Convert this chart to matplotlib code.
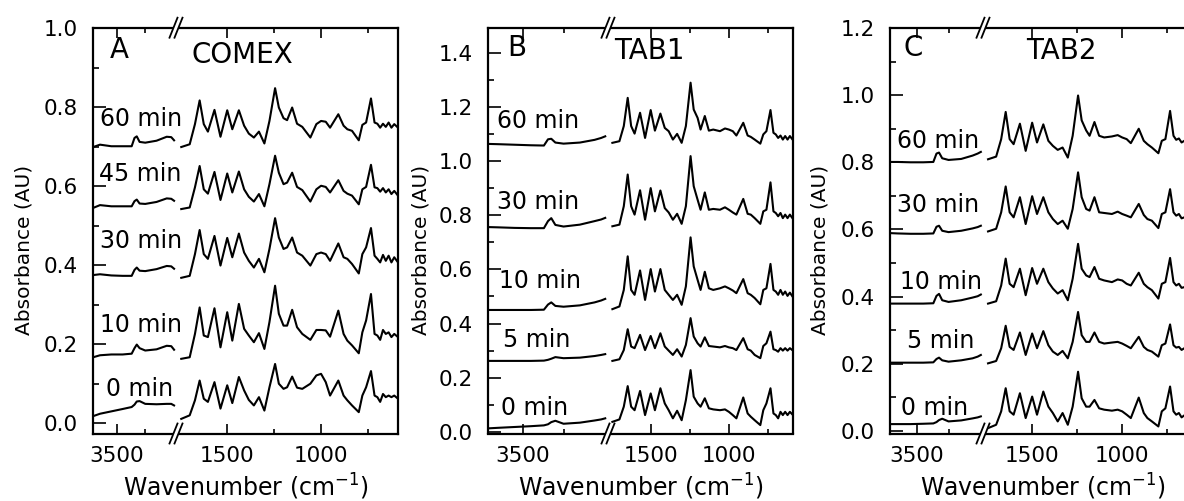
import matplotlib
matplotlib.use('Agg')
import matplotlib.pyplot as plt
from matplotlib.ticker import FixedLocator, MultipleLocator
from matplotlib.lines import Line2D
from matplotlib import transforms

plt.rcParams['font.family'] = ['DejaVu Sans']
plt.rcParams['mathtext.default'] = 'regular'

# wavenumber grids (cm-1) for the two parts of the broken axis
wn_lo = [3710, 3650, 3550, 3450, 3370, 3345, 3325, 3300, 3250, 3150, 3060, 3020, 2995]
wn_hi = [1745, 1700, 1672, 1647, 1625, 1603, 1568, 1536, 1500, 1473, 1438, 1410, 1385,
         1358, 1331, 1302, 1275, 1245, 1225, 1200, 1181, 1154, 1128, 1100, 1057, 1025,
         1000, 975, 952, 908, 880, 860, 835, 799, 780, 760, 734, 715, 700, 685, 670,
         655, 640, 625, 610, 590]

# A - COMEX
comex_times = ['60 min', '45 min', '30 min', '10 min', '0 min']
comex_60_lo = [0.699, 0.705, 0.701, 0.701, 0.701, 0.722, 0.726, 0.712, 0.710, 0.715, 0.725, 0.724, 0.716]
comex_45_lo = [0.545, 0.552, 0.549, 0.549, 0.549, 0.562, 0.566, 0.556, 0.555, 0.560, 0.569, 0.568, 0.563]
comex_30_lo = [0.375, 0.377, 0.374, 0.373, 0.373, 0.388, 0.394, 0.386, 0.385, 0.390, 0.398, 0.397, 0.391]
comex_10_lo = [0.167, 0.172, 0.174, 0.174, 0.176, 0.190, 0.199, 0.190, 0.184, 0.187, 0.196, 0.195, 0.186]
comex_0_lo = [0.018, 0.024, 0.030, 0.036, 0.041, 0.047, 0.055, 0.056, 0.049, 0.048, 0.049, 0.049, 0.045]
comex_60_hi = [0.699, 0.706, 0.757, 0.817, 0.757, 0.738, 0.793, 0.725, 0.792, 0.744, 0.792, 0.753, 0.733,
               0.723, 0.738, 0.708, 0.765, 0.848, 0.799, 0.772, 0.767, 0.799, 0.758, 0.750, 0.723, 0.757,
               0.765, 0.763, 0.748, 0.782, 0.753, 0.744, 0.740, 0.716, 0.755, 0.761, 0.822, 0.761, 0.758,
               0.748, 0.758, 0.750, 0.761, 0.748, 0.757, 0.748]
comex_45_hi = [0.542, 0.546, 0.597, 0.651, 0.592, 0.581, 0.636, 0.565, 0.632, 0.584, 0.637, 0.592, 0.573,
               0.561, 0.580, 0.549, 0.605, 0.677, 0.634, 0.605, 0.609, 0.634, 0.598, 0.590, 0.561, 0.592,
               0.601, 0.598, 0.584, 0.615, 0.588, 0.581, 0.576, 0.554, 0.592, 0.598, 0.654, 0.597, 0.595,
               0.586, 0.595, 0.584, 0.592, 0.580, 0.588, 0.576]
comex_30_hi = [0.368, 0.373, 0.428, 0.489, 0.428, 0.416, 0.474, 0.399, 0.469, 0.420, 0.480, 0.432, 0.411,
               0.394, 0.416, 0.382, 0.441, 0.519, 0.470, 0.441, 0.445, 0.470, 0.432, 0.424, 0.399, 0.428,
               0.432, 0.428, 0.411, 0.455, 0.420, 0.416, 0.403, 0.379, 0.428, 0.445, 0.494, 0.424, 0.416,
               0.407, 0.426, 0.411, 0.424, 0.407, 0.420, 0.407]
comex_10_hi = [0.163, 0.167, 0.226, 0.293, 0.222, 0.218, 0.291, 0.192, 0.281, 0.209, 0.302, 0.239, 0.222,
               0.205, 0.228, 0.188, 0.256, 0.348, 0.277, 0.247, 0.247, 0.287, 0.243, 0.226, 0.211, 0.236,
               0.236, 0.235, 0.219, 0.285, 0.226, 0.209, 0.197, 0.177, 0.230, 0.260, 0.327, 0.226, 0.222,
               0.211, 0.236, 0.226, 0.230, 0.218, 0.226, 0.218]
comex_0_hi = [0.011, 0.020, 0.058, 0.108, 0.062, 0.054, 0.104, 0.037, 0.096, 0.051, 0.117, 0.083, 0.059,
              0.045, 0.066, 0.032, 0.091, 0.150, 0.100, 0.087, 0.091, 0.118, 0.090, 0.087, 0.100, 0.121,
              0.125, 0.104, 0.070, 0.108, 0.070, 0.058, 0.045, 0.028, 0.070, 0.091, 0.132, 0.070, 0.066,
              0.054, 0.074, 0.066, 0.070, 0.066, 0.070, 0.062]

# B - TAB1
tab1_times = ['60 min', '30 min', '10 min', '5 min', '0 min']
tab1_60_lo = [1.063, 1.062, 1.060, 1.058, 1.057, 1.080, 1.082, 1.068, 1.064, 1.068, 1.078, 1.085, 1.091]
tab1_30_lo = [0.756, 0.755, 0.753, 0.752, 0.752, 0.778, 0.789, 0.764, 0.758, 0.765, 0.778, 0.784, 0.790]
tab1_10_lo = [0.450, 0.450, 0.450, 0.450, 0.451, 0.470, 0.478, 0.465, 0.462, 0.467, 0.478, 0.485, 0.491]
tab1_5_lo = [0.262, 0.262, 0.262, 0.262, 0.263, 0.266, 0.270, 0.276, 0.272, 0.274, 0.280, 0.284, 0.287]
tab1_0_lo = [0.013, 0.015, 0.018, 0.021, 0.024, 0.028, 0.036, 0.041, 0.030, 0.034, 0.042, 0.046, 0.050]
tab1_60_hi = [1.067, 1.073, 1.129, 1.233, 1.129, 1.101, 1.178, 1.085, 1.188, 1.112, 1.175, 1.122, 1.110,
              1.079, 1.100, 1.067, 1.129, 1.289, 1.190, 1.159, 1.116, 1.166, 1.112, 1.116, 1.110, 1.120,
              1.116, 1.110, 1.094, 1.141, 1.094, 1.089, 1.079, 1.064, 1.098, 1.110, 1.188, 1.104, 1.098,
              1.085, 1.094, 1.079, 1.092, 1.079, 1.092, 1.077]
tab1_30_hi = [0.759, 0.765, 0.833, 0.950, 0.833, 0.802, 0.892, 0.783, 0.900, 0.814, 0.891, 0.826, 0.810,
              0.783, 0.805, 0.768, 0.833, 1.018, 0.907, 0.857, 0.820, 0.884, 0.820, 0.823, 0.820, 0.829,
              0.820, 0.810, 0.802, 0.860, 0.805, 0.802, 0.789, 0.768, 0.814, 0.820, 0.921, 0.814, 0.808,
              0.796, 0.808, 0.789, 0.802, 0.789, 0.802, 0.786]
tab1_10_hi = [0.453, 0.463, 0.524, 0.648, 0.524, 0.506, 0.596, 0.487, 0.601, 0.518, 0.601, 0.524, 0.506,
              0.487, 0.506, 0.469, 0.537, 0.718, 0.611, 0.561, 0.524, 0.591, 0.530, 0.524, 0.530, 0.537,
              0.530, 0.522, 0.512, 0.564, 0.512, 0.506, 0.494, 0.471, 0.524, 0.530, 0.620, 0.524, 0.518,
              0.506, 0.524, 0.506, 0.518, 0.502, 0.514, 0.497]
tab1_5_hi = [0.262, 0.268, 0.302, 0.379, 0.315, 0.309, 0.358, 0.302, 0.354, 0.309, 0.364, 0.315, 0.300,
             0.284, 0.305, 0.278, 0.321, 0.420, 0.352, 0.327, 0.315, 0.349, 0.317, 0.315, 0.312, 0.317,
             0.312, 0.309, 0.302, 0.346, 0.305, 0.300, 0.284, 0.272, 0.317, 0.327, 0.370, 0.305, 0.302,
             0.296, 0.309, 0.300, 0.309, 0.300, 0.309, 0.300]
tab1_0_hi = [0.037, 0.046, 0.093, 0.169, 0.093, 0.080, 0.151, 0.062, 0.142, 0.080, 0.161, 0.105, 0.080,
             0.050, 0.078, 0.043, 0.117, 0.228, 0.130, 0.105, 0.093, 0.124, 0.087, 0.083, 0.080, 0.083,
             0.074, 0.062, 0.050, 0.127, 0.068, 0.056, 0.043, 0.025, 0.080, 0.105, 0.161, 0.068, 0.062,
             0.050, 0.074, 0.062, 0.074, 0.062, 0.074, 0.062]

# C - TAB2
tab2_times = ['60 min', '30 min', '10 min', '5 min', '0 min']
tab2_60_lo = [0.801, 0.801, 0.800, 0.800, 0.801, 0.826, 0.829, 0.812, 0.807, 0.810, 0.820, 0.826, 0.831]
tab2_30_lo = [0.589, 0.588, 0.587, 0.587, 0.588, 0.608, 0.611, 0.596, 0.592, 0.596, 0.603, 0.607, 0.611]
tab2_10_lo = [0.379, 0.379, 0.379, 0.379, 0.380, 0.402, 0.408, 0.389, 0.384, 0.389, 0.397, 0.401, 0.406]
tab2_5_lo = [0.203, 0.203, 0.203, 0.203, 0.204, 0.214, 0.218, 0.210, 0.206, 0.210, 0.216, 0.221, 0.226]
tab2_0_lo = [0.020, 0.020, 0.020, 0.021, 0.022, 0.026, 0.032, 0.036, 0.028, 0.031, 0.037, 0.040, 0.043]
tab2_60_hi = [0.809, 0.817, 0.869, 0.950, 0.869, 0.854, 0.915, 0.834, 0.918, 0.859, 0.913, 0.864, 0.849,
              0.837, 0.844, 0.814, 0.879, 0.999, 0.925, 0.895, 0.879, 0.920, 0.879, 0.874, 0.877, 0.881,
              0.874, 0.869, 0.857, 0.900, 0.864, 0.854, 0.844, 0.827, 0.864, 0.869, 0.953, 0.879, 0.867,
              0.871, 0.859, 0.864, 0.869, 0.859, 0.866, 0.860]
tab2_30_hi = [0.594, 0.602, 0.651, 0.728, 0.651, 0.636, 0.696, 0.616, 0.699, 0.646, 0.696, 0.651, 0.631,
              0.616, 0.626, 0.602, 0.661, 0.770, 0.696, 0.661, 0.656, 0.696, 0.651, 0.649, 0.646, 0.653,
              0.646, 0.641, 0.636, 0.676, 0.643, 0.631, 0.626, 0.604, 0.646, 0.651, 0.720, 0.651, 0.641,
              0.646, 0.633, 0.636, 0.641, 0.633, 0.638, 0.634]
tab2_10_hi = [0.379, 0.386, 0.433, 0.513, 0.438, 0.428, 0.483, 0.404, 0.485, 0.438, 0.483, 0.443, 0.424,
              0.409, 0.419, 0.389, 0.453, 0.557, 0.483, 0.463, 0.458, 0.488, 0.453, 0.448, 0.443, 0.451,
              0.448, 0.438, 0.433, 0.471, 0.438, 0.428, 0.419, 0.394, 0.438, 0.443, 0.515, 0.443, 0.433,
              0.438, 0.426, 0.428, 0.433, 0.426, 0.430, 0.427]
tab2_5_hi = [0.201, 0.208, 0.246, 0.313, 0.250, 0.241, 0.293, 0.226, 0.290, 0.246, 0.297, 0.255, 0.236,
             0.226, 0.238, 0.216, 0.265, 0.354, 0.285, 0.265, 0.265, 0.293, 0.265, 0.260, 0.263, 0.265,
             0.260, 0.253, 0.246, 0.280, 0.250, 0.241, 0.236, 0.221, 0.255, 0.260, 0.317, 0.255, 0.248,
             0.250, 0.241, 0.246, 0.250, 0.243, 0.247, 0.244]
tab2_0_hi = [0.008, 0.018, 0.058, 0.127, 0.058, 0.048, 0.112, 0.038, 0.102, 0.048, 0.117, 0.072, 0.053,
             0.028, 0.053, 0.018, 0.072, 0.176, 0.097, 0.072, 0.072, 0.092, 0.067, 0.063, 0.060, 0.063,
             0.058, 0.048, 0.038, 0.099, 0.053, 0.038, 0.028, 0.013, 0.058, 0.067, 0.132, 0.058, 0.048,
             0.053, 0.040, 0.046, 0.050, 0.042, 0.046, 0.043]

# layout (pixels of a 1184x501 canvas)
W, H = 1184, 501
TOP, BOT = 27.7, 433.5

panels = [
    dict(letter='A', title='COMEX', px=(93, 176, 398), ylim=(-0.026, 1.001), ylab_x=24,
         times=comex_times,
         lo=[comex_60_lo, comex_45_lo, comex_30_lo, comex_10_lo, comex_0_lo],
         hi=[comex_60_hi, comex_45_hi, comex_30_hi, comex_10_hi, comex_0_hi],
         lab_pos=[(3652, 0.753), (3661, 0.614), (3652, 0.444), (3652, 0.231), (3598, 0.069)],
         letter_pos=(3562, 0.925), title_pos=(1688, 0.912)),
    dict(letter='B', title='TAB1', px=(488, 608, 793), ylim=(-0.006, 1.492), ylab_x=421,
         times=tab1_times,
         lo=[tab1_60_lo, tab1_30_lo, tab1_10_lo, tab1_5_lo, tab1_0_lo],
         hi=[tab1_60_hi, tab1_30_hi, tab1_10_hi, tab1_5_hi, tab1_0_hi],
         lab_pos=[(3659, 1.122), (3654, 0.823), (3645, 0.530), (3618, 0.314), (3634, 0.062)],
         letter_pos=(3593, 1.387), title_pos=(1731, 1.378)),
    dict(letter='C', title='TAB2', px=(890, 983, 1196), ylim=(-0.008, 1.201), ylab_x=820,
         times=tab2_times,
         lo=[tab2_60_lo, tab2_30_lo, tab2_10_lo, tab2_5_lo, tab2_0_lo],
         hi=[tab2_60_hi, tab2_30_hi, tab2_10_hi, tab2_5_hi, tab2_0_hi],
         lab_pos=[(3654, 0.844), (3654, 0.651), (3633, 0.423), (3581, 0.247), (3625, 0.047)],
         letter_pos=(3607, 1.116), title_pos=(1533, 1.108)),
]

fig = plt.figure(figsize=(W / 100, H / 100), dpi=100)


def style(ax):
    for s in ax.spines.values():
        s.set_linewidth(1.6)
    ax.patch.set_visible(False)
    ax.tick_params(which='both', direction='in', top=True, right=False, width=1.2,
                   labelsize=15.5)
    ax.tick_params(axis='x', which='major', length=7, pad=9)
    ax.tick_params(axis='x', which='minor', length=3.5)
    ax.tick_params(axis='y', which='major', length=9, pad=11)
    ax.tick_params(axis='y', which='minor', length=4.5)


def break_mark(ax, yfrac):
    # "//" sign where the axis is cut
    tr = fig.dpi_scale_trans + transforms.ScaledTranslation(0, yfrac, ax.transAxes)
    fig.add_artist(Line2D([-0.035, 0.035], [-0.07, 0.07], transform=tr, color='white', lw=3.2))
    for dx in (-0.025, 0.025):
        fig.add_artist(Line2D([dx - 0.04, dx + 0.04], [-0.10, 0.10], transform=tr,
                              color='black', lw=1.3))


for p in panels:
    x0, xb, x1 = p['px']
    b = 1 - BOT / H
    h = (BOT - TOP) / H
    axL = fig.add_axes([x0 / W, b, (xb - x0) / W, h])
    axR = fig.add_axes([xb / W, b, (x1 - xb) / W, h])

    for lo, hi in zip(p['lo'], p['hi']):
        axL.plot(wn_lo, lo, color='black', lw=1.5)
        axR.plot(wn_hi, hi, color='black', lw=1.5)

    axL.set_xlim(3712, 2978)
    axR.set_xlim(1773, 590)
    axL.set_ylim(*p['ylim'])
    axR.set_ylim(*p['ylim'])

    axL.spines['right'].set_visible(False)
    axR.spines['left'].set_visible(False)

    axL.xaxis.set_major_locator(FixedLocator([3500]))
    axL.xaxis.set_minor_locator(FixedLocator([3250]))
    axR.xaxis.set_major_locator(FixedLocator([1500, 1000]))
    axR.xaxis.set_minor_locator(FixedLocator([1250, 750]))
    axL.yaxis.set_major_locator(MultipleLocator(0.2))
    axL.yaxis.set_minor_locator(MultipleLocator(0.1))
    axR.set_yticks([])
    axR.set_yticks([], minor=True)

    style(axL)
    style(axR)
    axR.tick_params(axis='y', which='both', left=False, right=False)

    for t, (wx, ay) in zip(p['times'], p['lab_pos']):
        axL.text(wx, ay, t, fontsize=17, ha='left', va='baseline', clip_on=False)
    axL.text(*p['letter_pos'], p['letter'], fontsize=20, ha='left', va='baseline')
    axR.text(*p['title_pos'], p['title'], fontsize=20, ha='left', va='baseline')

    break_mark(axR, 1)
    break_mark(axR, 0)

    fig.text((x0 + x1) / 2 / W, 1 - 496 / H, 'Wavenumber (cm$^{-1}$)', fontsize=17,
             ha='center', va='baseline')
    fig.text(p['ylab_x'] / W, 1 - 250 / H, 'Absorbance (AU)', fontsize=14.5,
             rotation=90, ha='center', va='center')

fig.savefig('out.png', dpi=100)
plt.close(fig)
